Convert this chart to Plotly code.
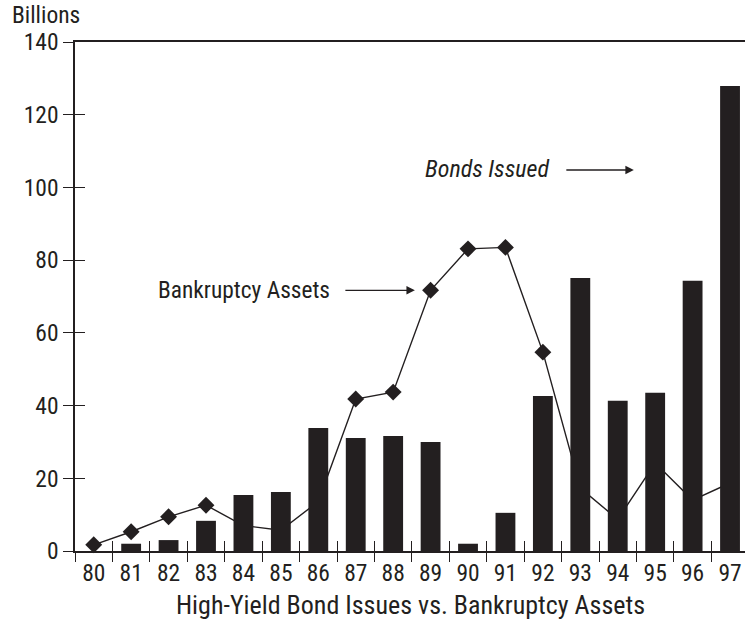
import plotly.graph_objects as go

# Years (19xx) shown on the category axis
years = ["80", "81", "82", "83", "84", "85", "86", "87", "88",
         "89", "90", "91", "92", "93", "94", "95", "96", "97"]

# High-yield bonds issued, billions
bonds_issued = [0, 2.0, 3.0, 8.3, 15.4, 16.2, 33.8, 31.1, 31.6,
                30.0, 2.0, 10.5, 42.6, 75.1, 41.3, 43.5, 74.3, 127.9]

# Assets of bankrupt companies, billions
bankruptcy_assets = [1.7, 5.3, 9.4, 12.6, 7.0, 5.7, 13.6, 41.8, 43.7,
                     71.7, 83.1, 83.5, 54.7, 17.3, 8.7, 24.2, 14.0, 18.7]

y_ticks = [0, 20, 40, 60, 80, 100, 120, 140]

INK = "#231f20"
FONT = "Liberation Sans Narrow, Roboto Condensed, Arial Narrow, Liberation Sans, sans-serif"

X_RANGE = [-0.5, 17.4]
Y_RANGE = [0, 140]

fig = go.Figure()

# Bankruptcy line sits on the base subplot so the bars cover it
fig.add_trace(go.Scatter(
    x=years, y=bankruptcy_assets, mode="lines+markers",
    line=dict(color=INK, width=1.4),
    marker=dict(symbol="diamond", size=13, color=INK),
    xaxis="x", yaxis="y", showlegend=False, cliponaxis=False,
))

# Bond issue bars on the overlaid subplot (drawn above the line)
fig.add_trace(go.Bar(
    x=years, y=bonds_issued, marker=dict(color=INK, line=dict(width=0)),
    width=0.53, xaxis="x2", yaxis="y2", showlegend=False,
))

axis_common = dict(showgrid=False, zeroline=False, color=INK)
tick_font = dict(size=23.5, family=FONT, color=INK)

fig.update_layout(
    width=745, height=626,
    margin=dict(l=75, r=0, t=42, b=75),
    plot_bgcolor="white", paper_bgcolor="white",
    font=dict(family=FONT, color=INK, size=23),
    xaxis=dict(
        **axis_common, type="category", categoryorder="array", categoryarray=years,
        range=X_RANGE, showline=True, linewidth=1.5, linecolor=INK, mirror=True,
        ticks="outside", ticklen=9, tickwidth=1.3, tickcolor=INK, tickson="boundaries",
        tickfont=tick_font,
    ),
    yaxis=dict(
        **axis_common, range=Y_RANGE, tickvals=y_ticks,
        showline=True, linewidth=1.5, linecolor=INK,
        ticks="outside", ticklen=10, tickwidth=1.3, tickcolor=INK,
        tickfont=tick_font,
    ),
    xaxis2=dict(
        **axis_common, type="category", categoryorder="array", categoryarray=years,
        range=X_RANGE, overlaying="x", side="bottom", anchor="y2",
        showline=False, showticklabels=False,
        ticks="inside", ticklen=10, tickwidth=1.3, tickcolor=INK, tickson="boundaries",
    ),
    yaxis2=dict(
        **axis_common, range=Y_RANGE, tickvals=y_ticks[:-1],
        overlaying="y", side="left", anchor="x2",
        showline=False, showticklabels=False,
        ticks="inside", ticklen=10, tickwidth=1.3, tickcolor=INK,
    ),
    bargap=0.47,
)

annotations = [
    # unit label above the value axis
    dict(text="Billions", xref="paper", yref="paper", x=-65 / 670, y=1 + 27 / 509,
         xanchor="left", yanchor="middle", showarrow=False,
         font=dict(size=23.5, family=FONT, color=INK)),
    # chart caption below the year axis
    dict(text="High-Yield Bond Issues vs. Bankruptcy Assets", xref="paper", yref="paper",
         x=0.5, y=-54 / 509, xanchor="center", yanchor="middle",
         showarrow=False, font=dict(size=26, family=FONT, color=INK)),
    # series labels
    dict(text="Bankruptcy Assets", xref="x", yref="y", x=6.36, y=71.7,
         xanchor="right", yanchor="middle", showarrow=False,
         font=dict(size=23.4, family=FONT, color=INK)),
    dict(text="<i>Bonds Issued</i>", xref="x", yref="y", x=8.79, y=105.2,
         xanchor="left", yanchor="middle", showarrow=False,
         font=dict(size=24, family=FONT, color=INK)),
    # pointer arrows
    dict(text="", xref="x", yref="y", x=8.58, y=71.7, ax=-71, ay=0,
         showarrow=True, arrowhead=2, arrowsize=1.3, arrowwidth=1.3, arrowcolor=INK,
         standoff=0, startstandoff=0),
    dict(text="", xref="x", yref="y", x=14.43, y=104.8, ax=-69, ay=0,
         showarrow=True, arrowhead=2, arrowsize=1.3, arrowwidth=1.3, arrowcolor=INK,
         standoff=0, startstandoff=0),
]
fig.update_layout(annotations=annotations)

fig.write_html("out.html")
